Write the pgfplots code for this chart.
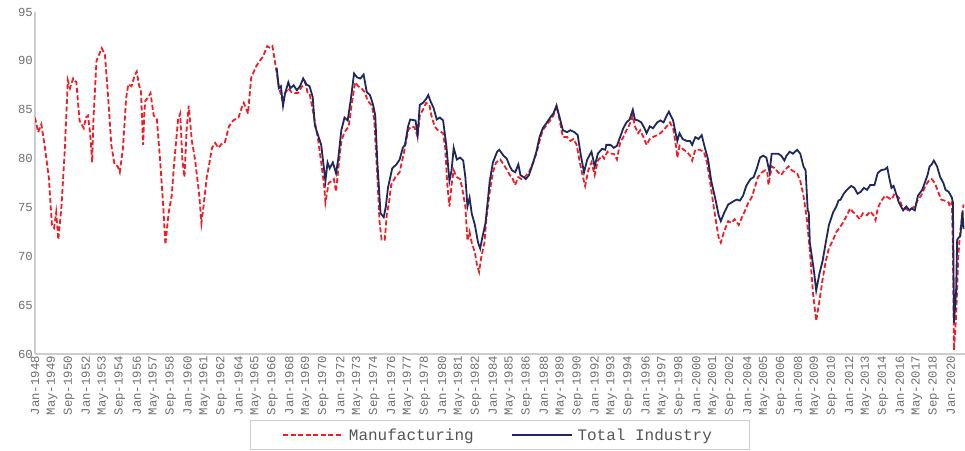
\documentclass[border=0pt]{standalone}
\usepackage{pgfplots}
\pgfplotsset{compat=1.18}
\usepackage{fontspec}
\setmainfont{Liberation Mono}
\definecolor{mfgred}{RGB}{238,30,38}
\definecolor{tinavy}{RGB}{30,40,92}
\definecolor{labgray}{RGB}{110,110,110}
\definecolor{leggray}{RGB}{85,85,85}
\definecolor{axgray}{RGB}{205,205,205}
\begin{document}
\begin{tikzpicture}
\begin{axis}[
  at={(35pt,96pt)}, anchor=south west,
  scale only axis, width=930pt, height=342pt,
  xmin=0, xmax=877.4, ymin=60, ymax=95,
  axis x line*=bottom, axis y line*=left,
  axis line style={draw=axgray, line width=1.3pt, -},
  major tick length=0pt, tick style={draw=none},
  ytick={60,65,70,75,80,85,90,95},
  xtick={0,16,...,864},
  xticklabels={Jan-1948,May-1949,Sep-1950,Jan-1952,May-1953,Sep-1954,Jan-1956,May-1957,Sep-1958,Jan-1960,May-1961,Sep-1962,Jan-1964,May-1965,Sep-1966,Jan-1968,May-1969,Sep-1970,Jan-1972,May-1973,Sep-1974,Jan-1976,May-1977,Sep-1978,Jan-1980,May-1981,Sep-1982,Jan-1984,May-1985,Sep-1986,Jan-1988,May-1989,Sep-1990,Jan-1992,May-1993,Sep-1994,Jan-1996,May-1997,Sep-1998,Jan-2000,May-2001,Sep-2002,Jan-2004,May-2005,Sep-2006,Jan-2008,May-2009,Sep-2010,Jan-2012,May-2013,Sep-2014,Jan-2016,May-2017,Sep-2018,Jan-2020},
  /pgf/number format/assume math mode=true,
  tick label style={font=\fontsize{12.3}{14}\selectfont, text=labgray},
  xticklabel style={rotate=90, anchor=east, inner sep=2pt},
  yticklabel style={inner sep=2pt},
  legend columns=2,
  legend image code/.code={\draw[#1] (0pt,0pt) -- (60pt,0pt);},
  legend style={at={(0.4995,-0.193)}, anchor=north, draw=axgray, line width=0.8pt,
    font=\fontsize{16}{18}\selectfont, text=leggray,
    inner xsep=32pt, inner ysep=6pt,
    nodes={inner xsep=5pt},
    /tikz/every even column/.append style={column sep=32pt}},
]
\addplot[mfgred, line width=1.8pt, dash pattern=on 5pt off 2.5pt] table {
m v
0 84.2
3 82.7
6 83.5
9 81.4
13 78.1
16 73.2
18 72.9
20 74.5
22 71.7
25 75.1
28 80.7
31 88.0
33 87.2
36 88.2
39 87.8
42 83.9
46 83.1
48 84.2
50 84.4
52 82.6
54 79.6
55 83.7
58 90.0
63 91.3
66 90.6
69 86.3
72 81.4
75 79.4
78 79.2
80 78.6
83 81.1
86 86.2
88 87.6
91 87.4
94 88.5
96 88.9
98 87.6
100 86.8
102 81.4
103 84.4
104 85.9
107 86.3
109 86.7
112 84.4
115 84.0
118 79.9
121 75.1
123 71.2
126 74.4
129 76.2
131 79.2
135 84.0
137 84.6
139 79.9
141 78.1
143 82.9
145 85.4
148 81.8
151 79.9
155 76.2
157 73.4
159 75.1
162 78.1
164 79.2
167 81.1
170 81.6
173 81.1
176 81.5
179 81.6
183 83.3
187 83.9
192 84.2
195 85.2
197 85.7
201 84.6
202 85.9
204 88.3
209 89.5
212 90.0
215 90.4
219 91.5
222 91.3
224 91.5
227 89.5
230 87.4
233 86.1
236 86.7
239 87.2
242 86.8
245 86.7
248 86.7
252 87.4
255 87.8
257 86.8
259 86.7
263 84.4
267 82.0
270 79.6
273 77.0
274 75.5
277 77.5
280 77.7
282 77.9
284 76.6
286 78.8
289 81.8
292 82.7
296 83.3
299 85.7
302 87.8
305 87.4
308 87.2
311 86.8
314 85.9
318 85.4
320 84.0
323 78.1
325 73.6
327 71.7
330 71.7
332 74.4
334 75.5
336 77.3
340 78.1
344 78.6
346 79.6
349 81.1
352 82.9
355 83.3
358 83.2
361 82.2
363 84.4
366 85.0
369 85.7
372 85.5
374 84.4
377 83.3
380 82.9
385 82.6
387 81.1
389 77.3
391 75.1
393 77.3
395 78.8
398 78.1
401 77.9
403 77.0
406 75.1
408 71.6
410 72.5
412 71.4
415 70.4
417 69.1
419 68.4
421 69.9
424 71.4
426 74.0
429 76.6
432 78.6
435 79.6
439 79.9
442 79.4
445 78.9
448 78.3
450 78.1
453 77.3
456 78.1
459 77.9
462 78.1
466 78.6
470 79.6
473 80.5
476 81.8
479 82.9
483 83.5
486 83.9
489 84.4
492 85.4
495 83.9
498 82.2
502 82.2
505 81.8
508 82.0
511 81.4
514 79.6
517 78.1
519 77.2
522 78.8
525 79.6
528 78.3
531 79.8
535 80.3
537 80.0
540 80.7
542 80.5
546 80.5
549 79.9
552 81.6
555 82.2
558 82.9
561 83.5
564 84.4
566 83.3
569 82.6
571 82.9
574 82.2
577 81.4
580 82.0
583 82.2
587 82.4
590 82.6
593 82.9
596 83.3
599 83.7
602 83.1
605 81.1
606 80.1
608 81.3
612 80.9
615 80.7
618 80.3
620 79.8
623 80.9
627 80.9
631 80.7
634 79.6
637 77.5
640 75.3
643 73.2
645 71.9
647 71.4
650 72.5
654 73.6
657 73.4
660 73.8
664 73.2
667 74.0
670 74.7
673 75.5
676 76.0
679 77.0
682 78.1
686 78.6
689 78.8
691 78.5
692 77.3
695 79.2
698 79.0
701 78.6
704 78.3
707 78.8
711 79.2
714 78.8
719 78.5
722 77.7
725 76.2
728 74.0
731 70.6
734 66.2
737 63.4
740 65.4
743 67.6
746 69.5
749 70.8
753 71.7
756 72.5
759 72.9
762 73.4
766 74.2
769 74.9
772 74.5
775 74.2
778 73.8
781 74.4
785 74.2
788 74.6
791 74.2
793 73.7
795 74.9
798 75.6
802 76.2
805 76.0
808 75.8
811 76.4
815 76.0
818 75.1
821 74.9
824 74.7
827 74.9
830 75.1
833 75.8
836 76.2
840 77.2
843 77.7
846 77.9
849 77.5
852 76.6
855 75.8
858 75.7
862 75.5
863 75.1
865 75.5
866 70.6
867 60.4
869 63.9
871 69.9
873 72.7
874 73.5
876 75.3
};
\addlegendentry{Manufacturing}
\addplot[tinavy, line width=1.8pt] table {
m v
228 89.3
230 87.2
232 87.4
234 85.4
236 86.7
239 87.8
241 87.2
244 87.5
247 87.0
250 87.4
253 88.2
256 87.6
259 87.4
262 86.3
264 83.4
267 82.4
270 81.4
274 77.7
276 79.6
278 79.0
281 79.6
284 78.5
286 79.9
289 82.9
292 84.2
295 83.9
298 86.1
301 88.7
304 88.3
307 88.2
310 88.6
313 86.8
316 86.5
319 85.5
321 84.4
323 79.6
326 74.4
329 74.0
331 75.1
333 77.0
337 79.0
341 79.4
344 79.9
347 81.1
349 81.4
352 83.3
354 84.0
359 83.9
361 82.4
363 85.5
366 85.7
369 86.1
371 86.5
373 85.9
376 85.2
379 84.0
382 84.2
385 83.9
388 81.4
391 77.7
393 78.8
395 81.1
398 79.9
401 80.1
404 79.8
406 78.1
408 75.1
410 76.0
412 74.4
415 73.2
418 71.4
420 70.8
422 71.9
425 73.4
427 75.5
429 77.7
432 79.6
436 80.7
438 80.9
442 80.3
445 80.0
448 79.2
450 78.8
453 78.6
456 79.4
458 78.3
461 78.1
463 77.9
466 78.3
470 79.6
473 80.7
476 82.2
479 83.1
483 83.7
486 84.2
489 84.6
492 85.4
495 84.2
498 82.9
502 82.7
505 82.9
509 82.7
512 82.4
515 80.3
518 78.6
521 79.9
525 80.7
528 79.2
531 80.5
535 81.0
538 80.9
539 81.4
543 81.4
546 81.1
549 81.3
552 82.2
555 83.1
558 83.7
561 84.0
564 85.0
566 84.0
569 83.9
572 83.7
575 83.1
577 82.6
580 83.3
583 83.1
587 83.7
590 83.9
593 83.7
596 84.4
598 84.8
602 83.9
604 82.8
606 81.8
608 82.6
611 82.0
615 81.8
618 81.8
620 81.4
623 82.2
626 82.0
629 82.4
632 81.1
635 79.9
638 77.7
642 75.8
645 74.2
647 73.6
650 74.4
654 75.3
657 75.5
660 75.7
662 75.8
665 75.7
668 76.2
671 77.2
675 77.9
678 78.1
681 79.0
684 80.1
687 80.3
690 80.1
693 78.6
695 80.5
698 80.5
701 80.5
704 80.3
707 79.8
709 80.3
712 80.7
715 80.5
719 80.9
722 80.5
725 79.2
727 78.8
729 74.7
730 74.5
731 71.4
733 69.9
735 68.4
737 66.5
740 68.2
743 69.5
746 71.4
749 73.2
753 74.5
756 75.1
758 75.7
760 75.8
763 76.4
766 76.8
770 77.2
773 77.0
776 76.4
779 76.6
782 77.0
785 76.8
788 77.3
792 77.3
795 78.5
798 78.8
802 78.9
804 79.1
806 78.0
808 77.0
810 77.2
813 76.2
815 75.5
819 74.7
822 75.1
825 74.7
827 74.9
830 74.7
833 76.2
837 76.8
840 77.7
842 78.3
844 79.2
846 79.4
848 79.8
851 79.2
854 78.1
857 77.5
859 76.8
862 76.6
865 76.0
866 75.5
867 63.2
869 66.5
870 71.7
873 72.1
875 74.6
876 72.8
};
\addlegendentry{Total Industry}
\end{axis}
\pgfresetboundingbox
\path[use as bounding box] (0pt,0pt) rectangle (965pt,450pt);
\end{tikzpicture}
\end{document}
